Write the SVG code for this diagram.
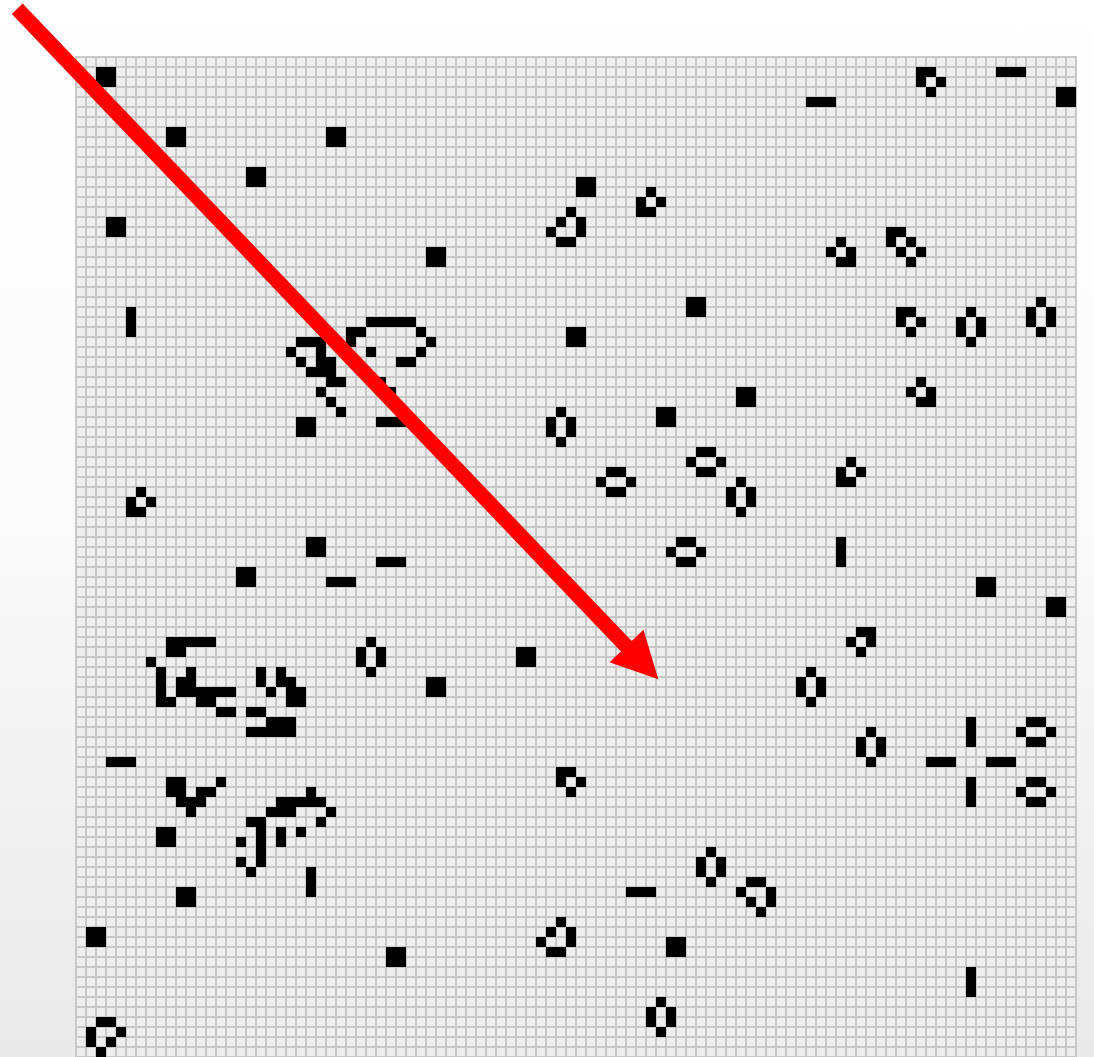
<svg xmlns="http://www.w3.org/2000/svg" xmlns:xlink="http://www.w3.org/1999/xlink" width="1094" height="1057" viewBox="0 0 1094 1057">
<style>
.live{fill:#000000}
.arrow-line{stroke:#ff0000;stroke-width:15;stroke-linecap:butt;fill:none}
.arrow-head{fill:#ff0000}
</style>
<defs>
<linearGradient id="bg" x1="0" y1="0" x2="0" y2="1">
<stop offset="0" stop-color="#ffffff"/>
<stop offset="0.5" stop-color="#fafafa"/>
<stop offset="1" stop-color="#e9e9e9"/>
</linearGradient>
<pattern id="grid" x="76" y="57" width="10" height="10" patternUnits="userSpaceOnUse">
<rect width="10" height="10" fill="#c8c8c8"/>
<rect x="1" y="1" width="8" height="8" fill="#eeeeee"/>
</pattern>
<rect id="c" width="10" height="10"/>
<rect id="b" width="20" height="20"/>
<rect id="h" width="30" height="10"/>
<rect id="v" width="10" height="30"/>
<g id="hv"><use href="#c" x="10" y="0"/><use href="#c" x="0" y="10"/><use href="#c" x="20" y="10"/><use href="#c" x="0" y="20"/><use href="#c" x="20" y="20"/><use href="#c" x="10" y="30"/></g>
<g id="hh"><use href="#c" x="10" y="0"/><use href="#c" x="20" y="0"/><use href="#c" x="0" y="10"/><use href="#c" x="30" y="10"/><use href="#c" x="10" y="20"/><use href="#c" x="20" y="20"/></g>
<g id="ba"><use href="#c" x="10" y="0"/><use href="#c" x="0" y="10"/><use href="#c" x="20" y="10"/><use href="#c" x="0" y="20"/><use href="#c" x="10" y="20"/></g>
<g id="bb"><use href="#c" x="0" y="0"/><use href="#c" x="10" y="0"/><use href="#c" x="0" y="10"/><use href="#c" x="20" y="10"/><use href="#c" x="10" y="20"/></g>
<g id="bc"><use href="#c" x="10" y="0"/><use href="#c" x="0" y="10"/><use href="#c" x="20" y="10"/><use href="#c" x="10" y="20"/><use href="#c" x="20" y="20"/></g>
<g id="bd"><use href="#c" x="10" y="0"/><use href="#c" x="20" y="0"/><use href="#c" x="0" y="10"/><use href="#c" x="20" y="10"/><use href="#c" x="10" y="20"/></g>
<g id="la"><use href="#c" x="20" y="0"/><use href="#c" x="10" y="10"/><use href="#c" x="30" y="10"/><use href="#c" x="0" y="20"/><use href="#c" x="30" y="20"/><use href="#c" x="10" y="30"/><use href="#c" x="20" y="30"/></g>
<g id="lb"><use href="#c" x="10" y="0"/><use href="#c" x="20" y="0"/><use href="#c" x="0" y="10"/><use href="#c" x="30" y="10"/><use href="#c" x="10" y="20"/><use href="#c" x="30" y="20"/><use href="#c" x="20" y="30"/></g>
<g id="lc"><use href="#c" x="10" y="0"/><use href="#c" x="20" y="0"/><use href="#c" x="0" y="10"/><use href="#c" x="30" y="10"/><use href="#c" x="0" y="20"/><use href="#c" x="20" y="20"/><use href="#c" x="10" y="30"/></g>
<g id="lg"><use href="#c" x="0" y="0"/><use href="#c" x="10" y="0"/><use href="#c" x="0" y="10"/><use href="#c" x="20" y="10"/><use href="#c" x="10" y="20"/><use href="#c" x="30" y="20"/><use href="#c" x="20" y="30"/></g>
</defs>
<rect x="0" y="0" width="1094" height="1057" fill="url(#bg)"/>
<rect id="board" x="75" y="56" width="1002" height="1001" fill="url(#grid)"/>
<g id="cells" class="live" transform="translate(76,57)">
<g id="blocks">
<use href="#b" x="20" y="10"/><use href="#b" x="90" y="70"/><use href="#b" x="250" y="70"/><use href="#b" x="170" y="110"/><use href="#b" x="30" y="160"/>
<use href="#b" x="500" y="120"/><use href="#b" x="350" y="190"/><use href="#b" x="610" y="240"/><use href="#b" x="490" y="270"/><use href="#b" x="980" y="30"/>
<use href="#b" x="660" y="330"/><use href="#b" x="900" y="520"/><use href="#b" x="970" y="540"/><use href="#b" x="580" y="350"/><use href="#b" x="440" y="590"/>
<use href="#b" x="350" y="620"/><use href="#b" x="220" y="360"/><use href="#b" x="230" y="480"/><use href="#b" x="160" y="510"/><use href="#b" x="80" y="770"/>
<use href="#b" x="100" y="830"/><use href="#b" x="10" y="870"/><use href="#b" x="310" y="890"/><use href="#b" x="590" y="880"/>
</g>
<g id="blinkers">
<use href="#v" x="50" y="250"/><use href="#h" x="920" y="10"/><use href="#h" x="730" y="40"/><use href="#v" x="760" y="480"/>
<use href="#v" x="890" y="910"/><use href="#h" x="300" y="500"/><use href="#h" x="250" y="520"/><use href="#h" x="30" y="700"/>
<use href="#v" x="230" y="810"/><use href="#h" x="550" y="830"/>
</g>
<g id="traffic-light">
<use href="#v" x="890" y="660"/><use href="#h" x="850" y="700"/><use href="#h" x="910" y="700"/><use href="#v" x="890" y="720"/>
</g>
<g id="beehives">
<use href="#hv" x="880" y="250"/><use href="#hv" x="950" y="240"/><use href="#hv" x="650" y="420"/><use href="#hv" x="720" y="610"/>
<use href="#hv" x="780" y="670"/><use href="#hv" x="470" y="350"/><use href="#hv" x="280" y="580"/><use href="#hv" x="620" y="790"/><use href="#hv" x="570" y="940"/>
<use href="#hh" x="940" y="660"/><use href="#hh" x="940" y="720"/><use href="#hh" x="520" y="410"/><use href="#hh" x="610" y="390"/><use href="#hh" x="590" y="480"/>
</g>
<g id="boats">
<use href="#ba" x="560" y="130"/><use href="#ba" x="760" y="400"/><use href="#ba" x="50" y="430"/>
<use href="#bb" x="840" y="10"/><use href="#bb" x="820" y="250"/><use href="#bb" x="480" y="710"/>
<use href="#bc" x="750" y="180"/><use href="#bc" x="830" y="320"/>
<use href="#bd" x="770" y="570"/>
<use href="#lg" x="810" y="170"/>
</g>
<g id="loaves">
<use href="#la" x="470" y="150"/><use href="#la" x="460" y="860"/><use href="#lb" x="660" y="820"/><use href="#lc" x="10" y="960"/>
</g>
<g id="cluster-a">
<rect x="290" y="260" width="50" height="10"/>
<rect x="270" y="270" width="20" height="10"/><rect x="340" y="270" width="10" height="10"/>
<rect x="220" y="280" width="30" height="10"/><rect x="270" y="280" width="10" height="10"/><rect x="350" y="280" width="10" height="10"/>
<rect x="210" y="290" width="10" height="10"/><rect x="240" y="290" width="10" height="10"/><rect x="290" y="290" width="10" height="10"/><rect x="340" y="290" width="10" height="10"/>
<rect x="220" y="300" width="10" height="10"/><rect x="240" y="300" width="20" height="10"/><rect x="320" y="300" width="20" height="10"/>
<rect x="230" y="310" width="30" height="10"/>
<rect x="250" y="320" width="20" height="10"/><rect x="300" y="320" width="10" height="10"/>
<rect x="240" y="330" width="10" height="10"/><rect x="310" y="330" width="10" height="10"/>
<rect x="250" y="340" width="10" height="10"/>
<rect x="260" y="350" width="10" height="10"/>
<rect x="300" y="360" width="30" height="10"/>
</g>
<g id="cluster-b">
<rect x="90" y="580" width="50" height="10"/>
<rect x="90" y="590" width="20" height="10"/>
<rect x="70" y="600" width="10" height="10"/>
<rect x="80" y="610" width="10" height="10"/><rect x="110" y="610" width="10" height="10"/><rect x="180" y="610" width="10" height="10"/><rect x="200" y="610" width="10" height="10"/>
<rect x="80" y="620" width="10" height="10"/><rect x="100" y="620" width="20" height="10"/><rect x="180" y="620" width="10" height="10"/><rect x="200" y="620" width="20" height="10"/>
<rect x="80" y="630" width="10" height="10"/><rect x="100" y="630" width="60" height="10"/><rect x="190" y="630" width="10" height="10"/><rect x="210" y="630" width="20" height="10"/>
<rect x="80" y="640" width="20" height="10"/><rect x="120" y="640" width="20" height="10"/><rect x="210" y="640" width="20" height="10"/>
<rect x="140" y="650" width="20" height="10"/><rect x="170" y="650" width="20" height="10"/>
<rect x="190" y="660" width="30" height="10"/>
<rect x="170" y="670" width="50" height="10"/>
</g>
<g id="cluster-c">
<rect x="90" y="720" width="20" height="10"/><rect x="140" y="720" width="10" height="10"/>
<rect x="90" y="730" width="20" height="10"/><rect x="120" y="730" width="20" height="10"/>
<rect x="100" y="740" width="30" height="10"/>
<rect x="110" y="750" width="10" height="10"/>
</g>
<g id="cluster-d">
<rect x="230" y="730" width="10" height="10"/>
<rect x="200" y="740" width="50" height="10"/>
<rect x="190" y="750" width="30" height="10"/><rect x="250" y="750" width="10" height="10"/>
<rect x="170" y="760" width="20" height="10"/><rect x="240" y="760" width="10" height="10"/>
<rect x="180" y="770" width="10" height="10"/><rect x="200" y="770" width="10" height="10"/><rect x="220" y="770" width="10" height="10"/>
<rect x="160" y="780" width="10" height="10"/><rect x="180" y="780" width="10" height="10"/><rect x="200" y="780" width="10" height="10"/>
<rect x="180" y="790" width="10" height="10"/>
<rect x="160" y="800" width="10" height="10"/><rect x="180" y="800" width="10" height="10"/>
<rect x="170" y="810" width="10" height="10"/>
</g>
</g>
<g id="connectors">
<g id="arrow">
<line class="arrow-line" x1="17.2" y1="8.7" x2="628" y2="648"/>
<polygon class="arrow-head" points="609.5,662.2 643.5,629.8 658.3,679.3"/>
</g>
</g>
</svg>
